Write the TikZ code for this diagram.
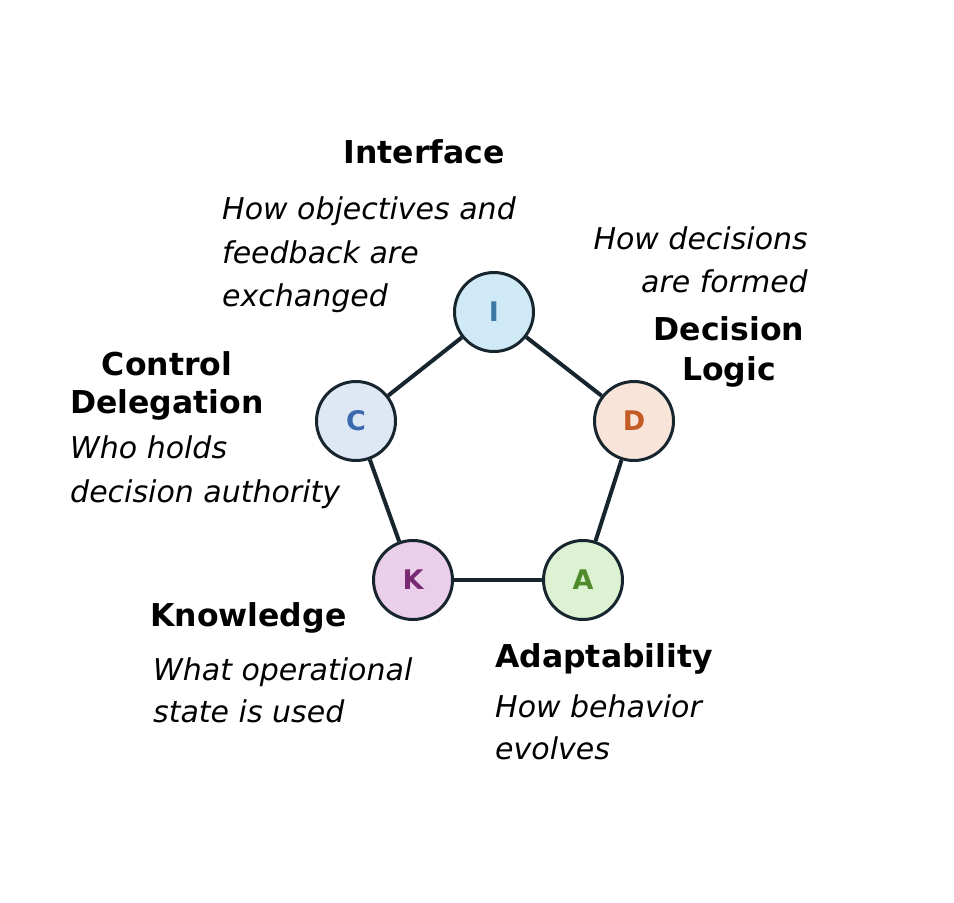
\documentclass[tikz,border=0pt]{standalone}
\usepackage{fontspec}
\setmainfont{DejaVu Sans}
\definecolor{edgec}{HTML}{17252F}
\definecolor{iFill}{HTML}{CFEAF6}\definecolor{iText}{HTML}{3B78A4}
\definecolor{cFill}{HTML}{DDE8F4}\definecolor{cText}{HTML}{3D69AE}
\definecolor{dFill}{HTML}{F8E4D8}\definecolor{dText}{HTML}{C45A24}
\definecolor{kFill}{HTML}{EBCFEA}\definecolor{kText}{HTML}{782A72}
\definecolor{aFill}{HTML}{DDF1D3}\definecolor{aText}{HTML}{4F8A2B}
\begin{document}
\begin{tikzpicture}[x=1pt,y=-1pt,
  dim/.style={circle,draw=edgec,line width=3pt,minimum size=79pt,inner sep=0,
    font=\bfseries\fontsize{27}{32}\selectfont},
  link/.style={draw=edgec,line width=4pt},
  ttl/.style={inner sep=0,font=\bfseries\fontsize{31.5}{37}\selectfont},
  dsc/.style={inner sep=0,font=\itshape\fontsize{30}{44}\selectfont}]
\useasboundingbox[fill=white] (0,0) rectangle (954,903);
% circles
\node[dim,fill=iFill,text=iText] (I) at (494,312) {I};
\node[dim,fill=cFill,text=cText] (C) at (356,421) {C};
\node[dim,fill=dFill,text=dText] (D) at (634,421) {D};
\node[dim,fill=kFill,text=kText] (K) at (413,580) {K};
\node[dim,fill=aFill,text=aText] (A) at (583,580) {A};
\draw[link] (I) -- (D);
\draw[link] (D) -- (A);
\draw[link] (A) -- (K);
\draw[link] (K) -- (C);
\draw[link] (C) -- (I);
% Interface
\node[ttl,anchor=base] (iT) at (424,163) {Interface};
\node[dsc,anchor=base west] (iD1) at (222,219) {How objectives and};
\node[dsc,anchor=base west] (iD2) at (222,263) {feedback are};
\node[dsc,anchor=base west] (iD3) at (222,306) {exchanged};
% Decision Logic
\node[dsc,anchor=base east] (dD1) at (808,249) {How decisions};
\node[dsc,anchor=base east] (dD2) at (808,292) {are formed};
\node[ttl,anchor=base] (dT1) at (729,340) {Decision};
\node[ttl,anchor=base] (dT2) at (729,380) {Logic};
% Control Delegation
\node[ttl,anchor=base] (cT1) at (167,375) {Control};
\node[ttl,anchor=base] (cT2) at (167,413) {Delegation};
\node[dsc,anchor=base west] (cD1) at (70,458) {Who holds};
\node[dsc,anchor=base west] (cD2) at (70,502) {decision authority};
% Knowledge
\node[ttl,anchor=base west] (kT) at (150,626) {Knowledge};
\node[dsc,anchor=base west] (kD1) at (153,680) {What operational};
\node[dsc,anchor=base west] (kD2) at (153,722) {state is used};
% Adaptability
\node[ttl,anchor=base west] (aT) at (495,667) {Adaptability};
\node[dsc,anchor=base west] (aD1) at (495,717) {How behavior};
\node[dsc,anchor=base west] (aD2) at (495,759) {evolves};
\end{tikzpicture}
\end{document}
